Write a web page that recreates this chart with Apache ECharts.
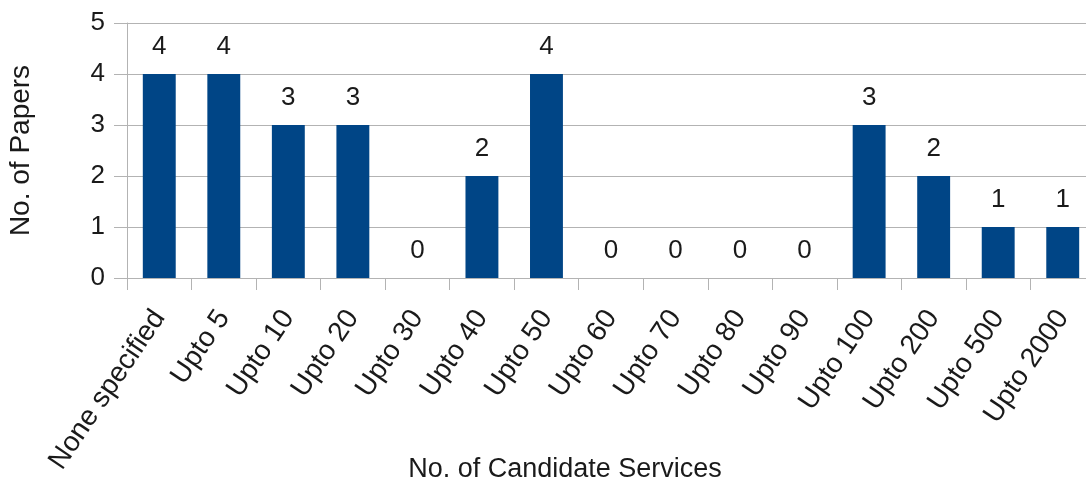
<!DOCTYPE html>
<html>
<head>
<meta charset="utf-8">
<script src="https://cdn.jsdelivr.net/npm/echarts@6/dist/echarts.min.js"></script>
<style>
html,body{margin:0;padding:0;background:#fff;}
#chart{width:1086px;height:484px;}
</style>
</head>
<body>
<div id="chart"></div>
<script>
const categories = ["None specified","Upto 5","Upto 10","Upto 20","Upto 30","Upto 40","Upto 50","Upto 60","Upto 70","Upto 80","Upto 90","Upto 100","Upto 200","Upto 500","Upto 2000"];
const papers = [4,4,3,3,0,2,4,0,0,0,0,3,2,1,1];
const yTicks = [0,1,2,3,4,5];
const xTitle = "No. of Candidate Services";
const yTitle = "No. of Papers";

const FONT = "Liberation Sans";
const chart = echarts.init(document.getElementById('chart'));
chart.setOption({
  animation:false,
  textStyle:{fontFamily:FONT},
  grid:{left:127, width:968, top:23, bottom:206, containLabel:false, outerBoundsMode:'none'},
  xAxis:{
    type:'category',
    data:categories,
    boundaryGap:true,
    axisLine:{show:true, lineStyle:{color:'#b3b3b3', width:1}},
    axisTick:{show:true, length:12, lineStyle:{color:'#b3b3b3'}},
    axisLabel:{rotate:56, margin:35, fontSize:28, color:'#1a1a1a', fontFamily:FONT, interval:0},
    name:xTitle,
    nameLocation:'middle',
    nameGap:178,
    nameMoveOverlap:false,
    nameTextStyle:{fontSize:27, color:'#1a1a1a', fontFamily:FONT, padding:[0,92,0,0]}
  },
  yAxis:{
    type:'value',
    min:yTicks[0], max:yTicks[yTicks.length-1], interval:1,
    axisLine:{show:true, lineStyle:{color:'#b3b3b3', width:1}},
    axisTick:{show:true, length:13, lineStyle:{color:'#b3b3b3'}},
    splitLine:{show:true, lineStyle:{color:'#b3b3b3', width:1}},
    axisLabel:{fontSize:26, color:'#1a1a1a', margin:22, fontFamily:FONT},
    name:yTitle,
    nameLocation:'middle',
    nameGap:92,
    nameMoveOverlap:false,
    nameTextStyle:{fontSize:28, color:'#1a1a1a', fontFamily:FONT}
  },
  series:[{
    type:'bar',
    data:papers,
    barWidth:'51%',
    itemStyle:{color:'#004586'},
    label:{show:true, position:'top', distance:14, fontSize:26, color:'#1a1a1a', fontFamily:FONT}
  }]
});
</script>
</body>
</html>
